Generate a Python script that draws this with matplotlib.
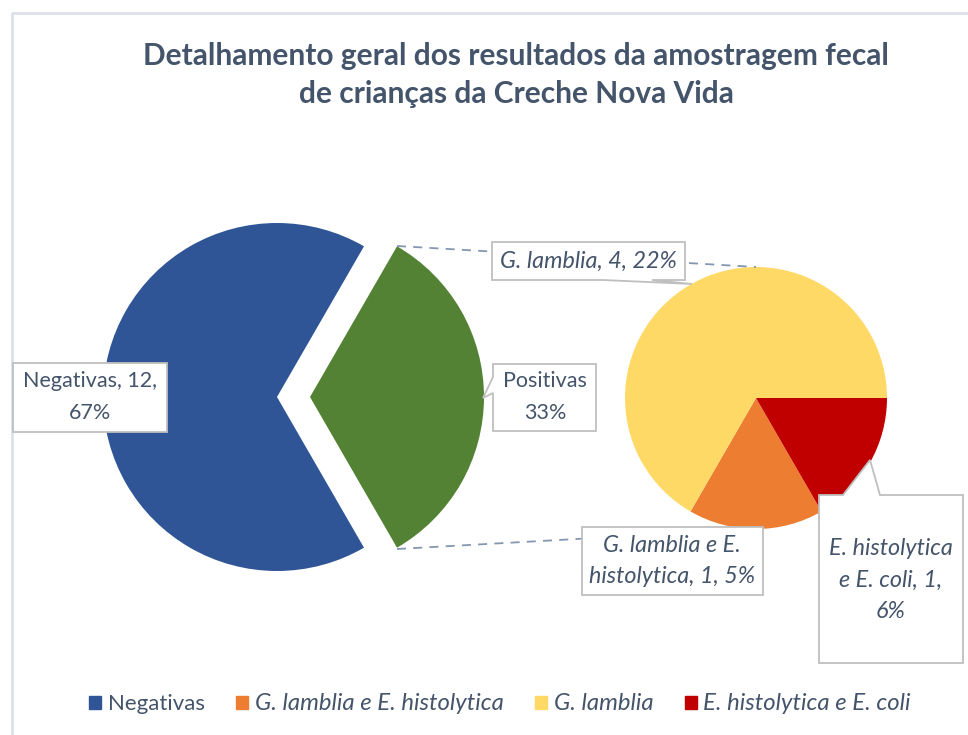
import matplotlib
matplotlib.use("Agg")
import matplotlib.pyplot as plt
from matplotlib.patches import Polygon, Patch

plt.rcParams['font.family'] = ['Lato', 'DejaVu Sans']

# data
main_labels = ["Negativas", "Positivas"]
main_values = [12, 6]
main_colors = ["#2F5597", "#548235"]

sub_labels = ["G. lamblia e E. histolytica", "G. lamblia", "E. histolytica e E. coli"]
sub_values = [1, 4, 1]
sub_colors = ["#ED7D31", "#FFD966", "#C00000"]
sub_pcts = ["5%", "22%", "6%"]

title = "Detalhamento geral dos resultados da amostragem fecal\nde crianças da Creche Nova Vida"

W, H = 968, 735
txt_color = "#44546A"
edge_gray = "#BFBFBF"
fs = 15.5
fs_it = 16.8  # Lato italic runs narrower than the regular face

fig = plt.figure(figsize=(W / 100, H / 100), dpi=100)
ax = fig.add_axes([0, 0, 1, 1])


def py(y):  # pixel row -> data y
    return H - y


# main pie: Positivas pulled out to the right (explode is in data units here)
ax.pie(main_values, colors=main_colors, startangle=60, counterclock=True,
       center=(277, py(397)), radius=174, explode=[0, 33], frame=True,
       wedgeprops=dict(linewidth=0))

# secondary pie (breakdown of Positivas)
ax.pie(sub_values, colors=sub_colors, startangle=-60, counterclock=False,
       center=(756, py(398)), radius=131, frame=True,
       wedgeprops=dict(linewidth=0))

# connector lines
line_kw = dict(color="#8497B0", linestyle=(0, (5, 4)), linewidth=1.3, zorder=1)
ax.plot([397, 756], [py(246), py(267)], **line_kw)
ax.plot([397, 756], [py(549), py(529)], **line_kw)


def callout(pts, text, cx, cy, italic=False):
    poly = Polygon([(x, py(y)) for x, y in pts], closed=True, facecolor="white",
                   edgecolor=edge_gray, linewidth=1.3, zorder=5)
    ax.add_patch(poly)
    ax.text(cx, py(cy), text, ha="center", va="center",
            fontsize=fs_it if italic else fs, color=txt_color,
            style="italic" if italic else "normal",
            linespacing=1.62 if italic else 1.7, zorder=6)


callout([(13, 363), (167, 363), (167, 432), (13, 432)],
        f"{main_labels[0]}, {main_values[0]},\n67%", 90, 397)
callout([(493, 364), (596, 364), (596, 431), (493, 431), (493, 393), (483, 398), (493, 377)],
        f"{main_labels[1]}\n33%", 545, 397)
callout([(492, 242), (685, 242), (685, 280), (652, 280), (692, 284), (603, 280), (492, 280)],
        f"{sub_labels[1]}, {sub_values[1]}, {sub_pcts[1]}", 588, 261, italic=True)
callout([(582, 527), (763, 527), (763, 595), (582, 595)],
        f"G. lamblia e E.\nhistolytica, {sub_values[0]}, {sub_pcts[0]}", 672, 561, italic=True)
callout([(819, 495), (843, 495), (870, 460), (880, 495), (963, 495), (963, 663), (819, 663)],
        f"E. histolytica\ne E. coli, {sub_values[2]},\n{sub_pcts[2]}", 891, 580, italic=True)

# chart border
ax.plot([11.5, 11.5, W + 5], [py(H + 5), py(12.5), py(12.5)], color="#DCE1E8",
        linewidth=2, zorder=0)

ax.text(516, py(75), title, ha="center", va="center", fontsize=21.5,
        fontweight="bold", color=txt_color, linespacing=1.45)

ax.set_xlim(0, W)
ax.set_ylim(0, H)
ax.set_aspect("auto")
ax.axis("off")

# legend
handles = [Patch(color=main_colors[0]), Patch(color=sub_colors[0]),
           Patch(color=sub_colors[1]), Patch(color=sub_colors[2])]
names = [main_labels[0], sub_labels[0], sub_labels[1], sub_labels[2]]
leg = fig.legend(handles, names, loc="center", bbox_to_anchor=(500 / W, 1 - 704 / H),
                 ncol=4, frameon=False, fontsize=16, handlelength=0.55,
                 handleheight=0.55, handletextpad=0.3, columnspacing=1.4,
                 labelcolor=txt_color)
for i, t in enumerate(leg.get_texts()):
    if i > 0:
        t.set_style("italic")
        t.set_fontsize(17.2)

fig.savefig("out.png", dpi=100)
